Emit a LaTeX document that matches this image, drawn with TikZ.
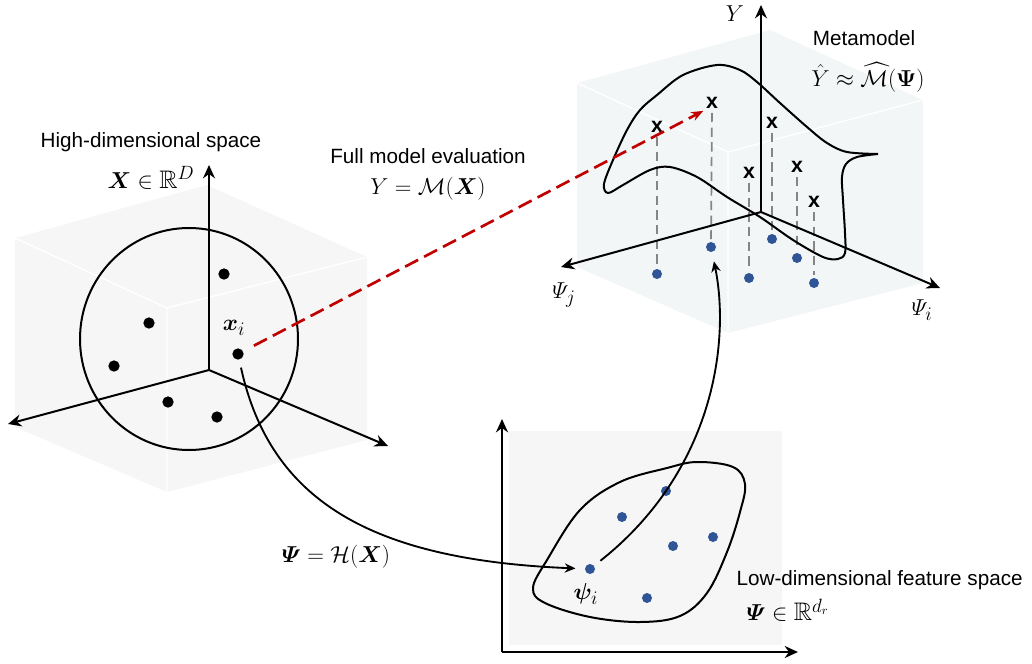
\documentclass[tikz,border=0pt]{standalone}
\usepackage{amsmath}
\usepackage{amssymb}
\usepackage{bm}
\usepackage{fontspec}
\setmainfont{Liberation Sans}
\usepackage{tikz}
\usetikzlibrary{arrows.meta,positioning,calc}
\definecolor{ptblue}{HTML}{2F5597}
\definecolor{evalred}{HTML}{C00000}
\definecolor{boxgray}{HTML}{F6F6F6}
\definecolor{cubetint}{HTML}{F3F6F6}
\definecolor{dropgray}{HTML}{858585}

\begin{document}
\begin{tikzpicture}[
  x=0.75pt, y=-0.75pt,
  txt/.style={font=\fontsize{15.5}{18}\selectfont, inner sep=1pt},
  eq/.style={font=\fontsize{19}{22}\selectfont, inner sep=1pt},
  axis/.style={-{Stealth[length=10pt, width=9pt]}, line width=1.5pt},
  edge/.style={-{Stealth[length=8pt, width=7pt]}, line width=1.4pt},
  evalarrow/.style={-{Stealth[length=9pt, width=7pt]}, line width=2pt, evalred, dash pattern=on 11pt off 5pt},
  blackpt/.style={circle, fill=black, inner sep=0pt, minimum size=8.5pt},
  bluept/.style={circle, fill=ptblue, inner sep=0pt, minimum size=7.5pt},
  xmark/.style={font=\bfseries\fontsize{16}{16}\selectfont, inner sep=1pt},
  drop/.style={dropgray, line width=1.3pt, dash pattern=on 7pt off 4pt, shorten <=2pt, shorten >=2pt},
  surf/.style={line width=1.5pt}
]
\useasboundingbox (0,0) rectangle (1032,664);

\fill[boxgray] (15,238) -- (207,185) -- (367,257) -- (367,440) -- (167,492) -- (15,427) -- cycle;
\draw[white, line width=1pt] (15,238) -- (167,308) -- (367,257) (167,308) -- (167,492);
\fill[cubetint] (577,83) -- (770,30) -- (923,100) -- (923,283) -- (728,333) -- (577,267) -- cycle;
\draw[white, line width=1pt] (577,83) -- (728,152) -- (923,100) (728,152) -- (728,333);
\fill[boxgray] (509,431) rectangle (782,645);

\coordinate (hdO) at (209,370);
\coordinate (hdU) at (209,165);
\coordinate (hdL) at (8,424);
\coordinate (hdR) at (388,446);
\draw[axis] (hdO) -- (hdU);
\draw[axis] (hdO) -- (hdL);
\draw[axis] (hdO) -- (hdR);
\draw[line width=1.5pt] (189,339) circle [x radius=109, y radius=111];

\node[blackpt] (a1) at (224,274) {};
\node[blackpt] (a2) at (149,323) {};
\node[blackpt] (a3) at (114,366) {};
\node[blackpt] (a4) at (168,402) {};
\node[blackpt] (a5) at (217,417) {};
\node[blackpt] (xi) at (238,354) {};
\node[eq] (xilab) at (234,328) {$\bm{x}_i$};

\node[txt] (hdtitle) at (151,142) {High-dimensional space};
\node[eq] (hdset) at (151,178) {$\bm{X}\in\mathbb{R}^D$};

\node[txt] (evaltitle) at (428,156) {Full model evaluation};
\node[eq] (evaleq) at (428,189) {$Y=\mathcal{M}(\bm{X})$};

\coordinate (mmO) at (761,212);
\coordinate (mmU) at (761,5);
\coordinate (mmL) at (561,267);
\coordinate (mmR) at (940,288);

\node[bluept] (q1) at (657,274) {};
\node[bluept] (q2) at (711,247) {};
\node[bluept] (q3) at (772,239) {};
\node[bluept] (q4) at (749,278) {};
\node[bluept] (q5) at (797,258) {};
\node[bluept] (q6) at (814,283) {};
\node[xmark] (m1) at (657,127) {x};
\node[xmark] (m2) at (712,103) {x};
\node[xmark] (m3) at (772,123) {x};
\node[xmark] (m4) at (749,173) {x};
\node[xmark] (m5) at (797,167) {x};
\node[xmark] (m6) at (814,202) {x};
\draw[drop] (m1) -- (q1);
\draw[drop] (m2) -- (q2);
\draw[drop] (m3) -- (q3);
\draw[drop] (m4) -- (q4);
\draw[drop] (m5) -- (q5);
\draw[drop] (m6) -- (q6);

\draw[axis] (mmO) -- (mmU);
\draw[axis] (mmO) -- (mmL);
\draw[axis] (mmO) -- (mmR);
\draw[surf] plot[smooth, tension=0.55] coordinates {(878,154) (847,152) (827,143) (807,127) (780,103) (757,82) (740,70) (717,65) (683,75) (657,95) (640,110) (627,130) (613,160) (604,184) (608,193) (623,185) (650,170) (670,167) (697,177) (727,197) (760,217) (793,240) (823,257) (838,259) (845,253) (845,233) (843,200) (842,177) (846,164) (857,157) (878,154)};

\node[eq] (ylab) at (735,14) {$Y$};
\node[eq] (psijlab) at (564,295) {$\varPsi_j$};
\node[eq] (psiilab) at (922,310) {$\varPsi_i$};
\node[txt] (mmtitle) at (864,38) {Metamodel};
\node[eq] (mmeq) at (868,77) {$\hat{Y}\approx\widehat{\mathcal{M}}(\bm{\Psi})$};

\coordinate (ldO) at (502,652);
\coordinate (ldU) at (502,419);
\coordinate (ldR) at (798,652);
\draw[axis] (ldO) -- (ldU);
\draw[axis] (ldO) -- (ldR);
\draw[surf] plot[smooth cycle, tension=0.6] coordinates {(547,560) (580,510) (620,482) (667,468) (697,462) (733,467) (745,484) (740,512) (727,552) (707,593) (680,616) (640,622) (590,617) (545,603) (533,588)};

\node[bluept] (r1) at (666,491) {};
\node[bluept] (r2) at (622,517) {};
\node[bluept] (r3) at (713,537) {};
\node[bluept] (r4) at (673,546) {};
\node[bluept] (psi) at (590,569) {};
\node[bluept] (r6) at (647,598) {};
\node[eq] (psilab) at (586,594) {$\bm{\psi}_i$};

\node[txt, anchor=west] (ldtitle) at (735,580) {Low-dimensional feature space};
\node[eq, anchor=west] (ldset) at (745,610) {$\bm{\varPsi}\in\mathbb{R}^{d_r}$};
\node[eq] (mapeq) at (336,557) {$\bm{\varPsi}=\mathcal{H}(\bm{X})$};

\draw[evalarrow, shorten <=9pt, shorten >=1pt] (xi) -- (m2.south west);
\draw[edge, shorten <=6pt, shorten >=7pt] (xi) .. controls (270,500) and (370,560) .. (psi);
\draw[edge, shorten <=6pt, shorten >=7pt] (psi) .. controls (715,470) and (730,340) .. (q2);
\end{tikzpicture}
\end{document}
